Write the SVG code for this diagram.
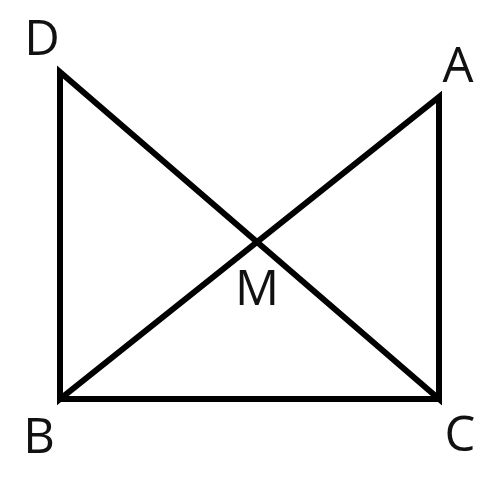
<svg xmlns="http://www.w3.org/2000/svg" width="500" height="500" viewBox="0 0 500 500">
<style>
.edge{fill:none;stroke:#000;stroke-width:6;stroke-linejoin:miter;stroke-miterlimit:10}
.sq{stroke-linecap:square}
.lbl{font-family:"Open Sans","Noto Sans",sans-serif;font-size:49px;fill:#111;text-anchor:middle}
</style>
<rect width="500" height="500" fill="#fff"/>
<g id="connectors">
<path class="edge" d="M60,399 L60,72 L439,399 L439,97 Z"/>
<path class="edge sq" d="M60,399 L439,399"/>
</g>
<g id="D"><text class="lbl" x="42" y="55">D</text></g>
<g id="A"><text class="lbl" x="458" y="82">A</text></g>
<g id="B"><text class="lbl" x="39" y="453">B</text></g>
<g id="C"><text class="lbl" x="460" y="451">C</text></g>
<g id="M"><text class="lbl" x="257" y="305">M</text></g>
</svg>
